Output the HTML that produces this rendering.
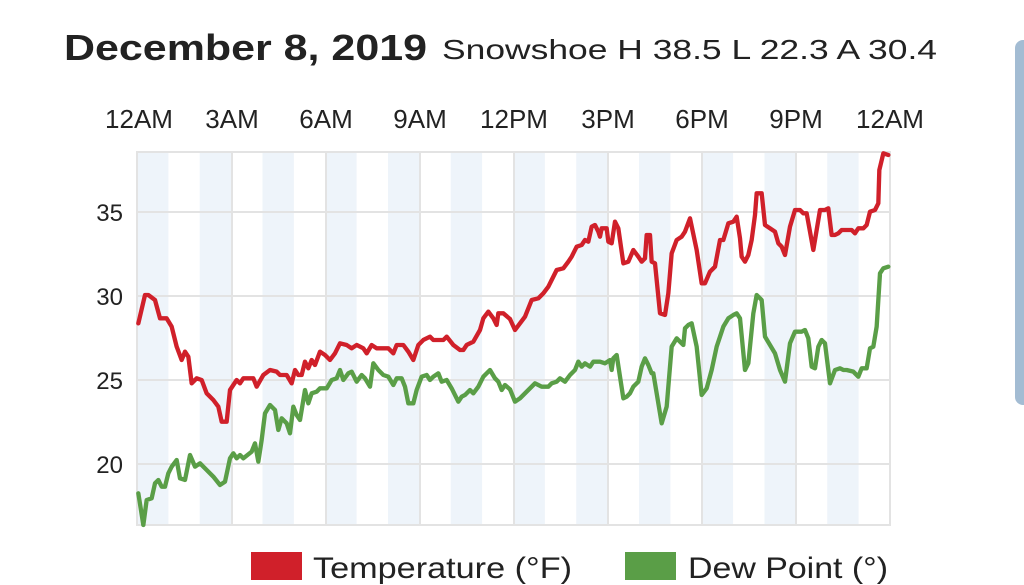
<!DOCTYPE html>
<html><head><meta charset="utf-8"><style>
html,body{margin:0;padding:0;background:#fff;}
svg{display:block;font-family:"Liberation Sans",Arial,sans-serif;}
</style></head><body>
<svg width="1024" height="585" viewBox="0 0 1024 585" xmlns="http://www.w3.org/2000/svg">
<rect width="1024" height="585" fill="#fff"/>
<rect x="1015" y="40" width="30" height="365" rx="8" fill="#a3bcd3"/>
<text x="64" y="60" font-size="36" font-weight="bold" fill="#222" textLength="363" lengthAdjust="spacingAndGlyphs">December 8, 2019</text>
<text x="442" y="59" font-size="28" fill="#222" textLength="495" lengthAdjust="spacingAndGlyphs">Snowshoe H 38.5 L 22.3 A 30.4</text>
<g font-size="26" fill="#222" text-anchor="middle">
<text x="139" y="128">12AM</text><text x="232" y="128">3AM</text><text x="326" y="128">6AM</text><text x="420" y="128">9AM</text><text x="514" y="128">12PM</text><text x="608" y="128">3PM</text><text x="702" y="128">6PM</text><text x="796" y="128">9PM</text><text x="890" y="128">12AM</text>
</g>
<g font-size="24" fill="#222" text-anchor="end">
<text x="123" y="221">35</text><text x="123" y="305">30</text><text x="123" y="389">25</text><text x="123" y="473">20</text>
</g>
<g fill="#eef4fa">
<rect x="137" y="152" width="31.4" height="373"/><rect x="199.7" y="152" width="31.4" height="373"/><rect x="262.5" y="152" width="31.4" height="373"/><rect x="325.2" y="152" width="31.4" height="373"/><rect x="388" y="152" width="31.4" height="373"/><rect x="450.7" y="152" width="31.4" height="373"/><rect x="513.5" y="152" width="31.4" height="373"/><rect x="576.2" y="152" width="31.4" height="373"/><rect x="639" y="152" width="31.4" height="373"/><rect x="701.7" y="152" width="31.4" height="373"/><rect x="764.5" y="152" width="31.4" height="373"/><rect x="827.2" y="152" width="31.4" height="373"/>
</g>
<g stroke="#e3e3e3" stroke-width="2" fill="none">
<rect x="137" y="152" width="753" height="373"/>
<line x1="137" y1="212" x2="890" y2="212"/><line x1="137" y1="296" x2="890" y2="296"/><line x1="137" y1="380" x2="890" y2="380"/><line x1="137" y1="464" x2="890" y2="464"/>
<line x1="232" y1="152" x2="232" y2="525"/><line x1="326" y1="152" x2="326" y2="525"/><line x1="420" y1="152" x2="420" y2="525"/><line x1="514" y1="152" x2="514" y2="525"/><line x1="608" y1="152" x2="608" y2="525"/><line x1="702" y1="152" x2="702" y2="525"/><line x1="796" y1="152" x2="796" y2="525"/>
</g>
<g transform="translate(130,140) scale(0.33333)" fill="none" stroke-width="13" stroke-linejoin="round" stroke-linecap="round">
<polyline stroke="#d0202a" points="25,550 45,465 55,465 75,480 90,535 110,535 125,560 140,620 155,660 165,635 175,650 185,730 200,715 215,720 230,760 250,780 265,800 275,845 290,845 300,750 320,720 330,730 340,715 370,715 380,740 400,705 420,690 440,695 450,705 470,705 485,730 495,690 505,705 515,705 525,665 535,685 545,660 555,675 570,635 585,645 600,660 615,640 630,610 650,615 665,625 680,615 700,625 710,640 725,615 740,625 775,625 790,640 800,615 820,615 835,635 850,660 865,615 880,600 900,590 910,600 940,600 950,590 970,615 990,630 1000,630 1010,615 1030,605 1050,570 1060,535 1075,515 1090,535 1100,555 1105,520 1120,520 1140,537"/>
<polyline stroke="#5a9e47" points="25,1060 40,1155 50,1080 65,1075 75,1030 85,1020 95,1040 105,1040 115,1000 125,980 140,960 150,1015 165,1020 180,945 195,980 210,970 230,990 250,1010 270,1035 285,1025 300,955 310,940 320,955 330,945 340,955 365,935 375,910 385,965 395,900 405,820 420,795 435,810 445,870 455,835 470,850 480,880 490,800 500,825 510,840 525,750 535,790 545,760 560,755 570,745 590,745 605,720 620,715 630,690 640,720 655,700 665,695 680,725 695,705 705,715 720,740 730,670 745,690 760,705 775,710 790,735 800,715 815,715 825,740 835,790 850,790 860,750 875,710 890,705 900,720 910,710 925,700 935,725 950,720 965,745 985,785 995,770 1005,765 1020,750 1030,760 1045,740 1060,710 1080,690 1095,715 1105,725 1115,750 1125,735 1140,748"/>
</g>
<g transform="translate(510,140) scale(0.33333)" fill="none" stroke-width="13" stroke-linejoin="round" stroke-linecap="round">
<polyline stroke="#d0202a" points="0,537 15,570 30,550 45,530 65,480 85,475 100,460 115,440 125,420 140,390 160,385 175,365 185,350 200,320 215,315 225,300 235,305 245,260 255,255 265,275 270,290 275,265 290,265 295,305 305,310 315,245 325,265 340,370 355,365 370,330 385,350 395,365 405,355 410,285 420,285 425,365 435,370 450,520 465,525 475,460 485,340 500,300 515,290 525,275 540,235 560,330 575,430 585,430 600,395 615,380 630,300 640,300 655,250 670,245 680,230 690,295 695,350 705,365 715,345 725,300 735,225 740,160 755,160 765,255 780,265 795,275 805,310 815,320 825,345 840,260 855,210 870,210 880,220 890,220 910,330 930,210 945,210 955,205 965,285 975,285 985,280 995,270 1025,270 1035,280 1045,265 1060,265 1070,255 1080,215 1095,210 1105,190 1108,90 1120,40 1135,45"/>
<polyline stroke="#5a9e47" points="0,748 15,785 30,775 45,760 60,745 75,730 95,740 115,740 125,730 140,725 150,715 165,725 180,705 195,690 205,665 215,680 225,670 240,680 250,665 270,665 285,670 300,660 305,690 310,655 320,645 340,775 350,770 360,760 370,740 385,725 395,680 405,655 415,675 425,700 430,700 455,850 470,800 485,620 500,595 510,605 520,615 525,565 535,555 545,550 560,620 575,765 590,745 605,690 620,620 640,560 655,535 670,525 680,520 690,535 705,690 715,670 730,520 740,465 755,480 765,590 780,615 795,640 810,690 825,725 840,610 855,575 875,575 885,570 895,595 905,680 915,685 925,620 935,600 945,610 960,730 975,690 990,685 1000,690 1010,690 1030,695 1045,710 1055,685 1070,685 1080,625 1090,620 1100,560 1110,400 1120,385 1135,380"/>
</g>
<rect x="251" y="552" width="51" height="28" fill="#d0202a"/>
<text x="313" y="578" font-size="30" fill="#222" textLength="259" lengthAdjust="spacingAndGlyphs">Temperature (°F)</text>
<rect x="625" y="552" width="51" height="28" fill="#5a9e47"/>
<text x="688" y="578" font-size="30" fill="#222" textLength="200" lengthAdjust="spacingAndGlyphs">Dew Point (°)</text>
</svg>
</body></html>
